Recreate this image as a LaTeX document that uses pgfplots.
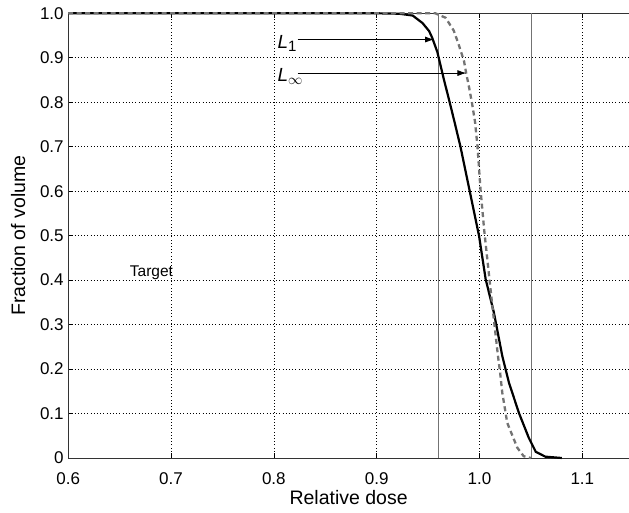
\documentclass[border=0pt]{standalone}
\usepackage{fontspec}
\setmainfont{Liberation Sans}
\usepackage{pgfplots}
\pgfplotsset{compat=1.18}
\usetikzlibrary{arrows.meta}

\pgfplotstableread{
x y
0.600 1.000
0.900 1.000
0.922 0.999
0.935 0.995
0.9446 0.978
0.951 0.960
0.954 0.945
0.959 0.913
0.9655 0.850
0.971 0.800
0.9763 0.750
0.9815 0.700
0.9905 0.600
0.9996 0.499
1.006 0.402
1.014 0.327
1.0222 0.229
1.0287 0.169
1.0384 0.101
1.048 0.045
1.0547 0.014
1.064 0.003
1.080 0.000
}\solidcurve

\pgfplotstableread{
x y
0.600 1.000
0.957 1.000
0.967 0.990
0.975 0.961
0.980 0.928
0.985 0.892
0.987 0.866
0.990 0.832
0.993 0.794
0.9957 0.755
0.998 0.702
1.001 0.604
1.0045 0.514
1.009 0.417
1.0125 0.342
1.018 0.229
1.020 0.193
1.0222 0.146
1.027 0.079
1.0368 0.023
1.043 0.004
1.050 0.000
}\dashedcurve

\begin{document}
\begin{tikzpicture}
\begin{axis}[
  scale only axis,
  width=560.8pt, height=444.7pt,
  xmin=0.6, xmax=1.1454, ymin=0, ymax=1,
  axis x line*=box, axis y line*=left,
  axis line style={black!80, line width=0.7pt},
  xtick={0.6,0.7,0.8,0.9,1.0,1.1},
  xticklabels={0.6,0.7,0.8,0.9,1.0,1.1},
  ytick={0,0.1,0.2,0.3,0.4,0.5,0.6,0.7,0.8,0.9,1.0},
  yticklabels={0,0.1,0.2,0.3,0.4,0.5,0.6,0.7,0.8,0.9,1.0},
  xtick pos=both, ytick pos=left,
  tick align=inside,
  major tick length=5pt,
  tick style={black, line width=0.6pt},
  grid=major,
  major grid style={black, line width=0.6pt, dash pattern=on 0.8pt off 2.4pt},
  tick label style={font=\fontsize{17}{20}\selectfont},
  xticklabel style={yshift=-11pt},
  yticklabel style={xshift=-1pt},
  every axis x label/.style={at={(rel axis cs:0.5,0)}, yshift=-40pt, anchor=center, font=\fontsize{19.5}{22}\selectfont},
  every axis y label/.style={at={(rel axis cs:0,0.5)}, xshift=-50pt, rotate=90, anchor=center, font=\fontsize{19.5}{22}\selectfont},
  xlabel={Relative dose},
  ylabel={Fraction of volume},
  clip=false,
]
\coordinate (SW) at (rel axis cs:0,0);
\coordinate (NE) at (rel axis cs:1,1);
\addplot[black!55, line width=0.8pt] coordinates {(0.96,0) (0.96,1)};
\addplot[black!55, line width=0.8pt] coordinates {(1.05,0) (1.05,1)};
\addplot[black, line width=2.2pt] table[x=x,y=y] {\solidcurve};
\addplot[black!55, line width=2.3pt, dash pattern=on 5pt off 3.5pt] table[x=x,y=y] {\dashedcurve};
\draw[-{Latex[length=9pt,width=6pt]}, line width=0.8pt] (axis cs:0.8232,0.941) -- (axis cs:0.9559,0.941);
\draw[-{Latex[length=9pt,width=6pt]}, line width=0.8pt] (axis cs:0.8232,0.8656) -- (axis cs:0.9873,0.8656);
\node[anchor=west, font=\fontsize{19}{22}\selectfont, inner sep=0pt] at (axis cs:0.8035,0.932) {\textit{L}\raisebox{-0.35ex}{\fontsize{15}{17}\selectfont 1}};
\node[anchor=west, font=\fontsize{19}{22}\selectfont, inner sep=0pt] at (axis cs:0.8035,0.858) {\textit{L}\raisebox{-0.35ex}{$\scriptstyle\infty$}};
\node[anchor=west, font=\fontsize{15.5}{18}\selectfont, inner sep=0pt] at (axis cs:0.6598,0.4167) {Target};
\end{axis}
\pgfresetboundingbox
\path ([xshift=-68.2pt,yshift=-55pt]SW) rectangle ([yshift=13.3pt]NE);
\end{tikzpicture}
\end{document}
